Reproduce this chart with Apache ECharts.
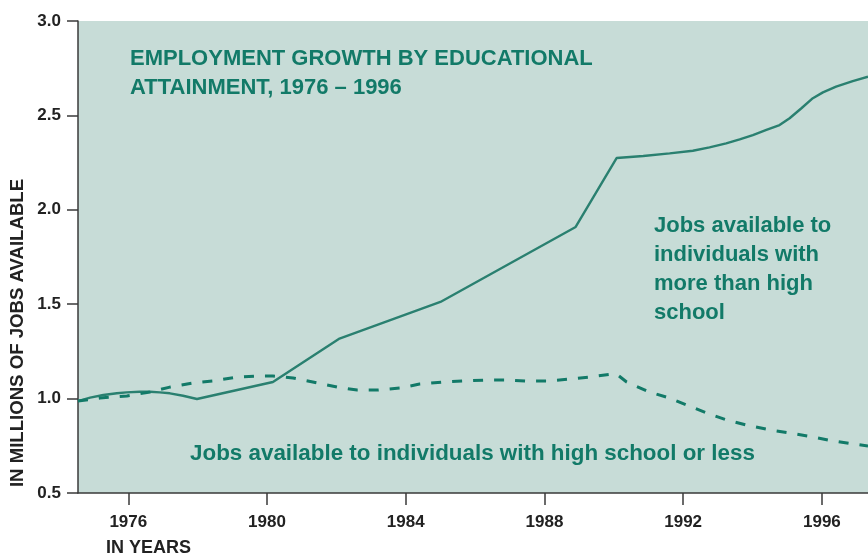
<!DOCTYPE html>
<html>
<head>
<meta charset="utf-8">
<script src="https://cdn.jsdelivr.net/npm/echarts@6/dist/echarts.min.js"></script>
<style>html,body{margin:0;padding:0;background:#fff}#c{width:868px;height:556px}</style>
</head>
<body>
<div id="c"></div>
<script>
// ---- data ----
const solidYears  = [1974.55,1974.9,1975.28,1975.67,1975.95,1976.33,1976.62,1976.91,1977.2,1977.58,1977.98,1980.17,1982.07,1985.0,1988.9,1990.08,1990.85,1991.61,1992.28,1992.76,1993.24,1993.63,1994.01,1994.4,1994.78,1995.07,1995.41,1995.74,1996.03,1996.41,1996.89,1997.33];
const solidValues = [0.987,1.005,1.019,1.028,1.033,1.036,1.036,1.033,1.028,1.015,0.998,1.088,1.316,1.512,1.909,2.274,2.285,2.299,2.313,2.331,2.352,2.373,2.396,2.423,2.449,2.485,2.538,2.591,2.622,2.652,2.682,2.705];
const dashedYears  = [1974.55,1975.18,1975.96,1976.63,1977.2,1977.87,1978.44,1979.13,1979.8,1980.17,1980.75,1981.32,1982.02,1982.6,1983.19,1983.83,1984.4,1985.07,1985.64,1986.28,1986.91,1987.48,1988.09,1988.72,1989.3,1989.96,1990.08,1990.37,1991.03,1991.6,1992.1,1992.67,1993.25,1993.83,1994.5,1995.07,1995.73,1996.3,1996.88,1997.33];
const dashedValues = [0.987,1.003,1.014,1.035,1.061,1.083,1.093,1.114,1.12,1.12,1.109,1.088,1.061,1.045,1.045,1.056,1.077,1.088,1.093,1.098,1.098,1.093,1.093,1.103,1.114,1.13,1.13,1.088,1.035,1.003,0.966,0.924,0.887,0.86,0.834,0.818,0.797,0.776,0.76,0.749];
const xTickValues = [1976,1980,1984,1988,1992,1996];
const yTicks = [0.5,1.0,1.5,2.0,2.5,3.0];
const titleText = 'EMPLOYMENT GROWTH BY EDUCATIONAL\nATTAINMENT, 1976 \u2013 1996';
const upperLabel = 'Jobs available to\nindividuals with\nmore than high\nschool';
const lowerLabel = 'Jobs available to individuals with high school or less';
const yAxisTitle = 'IN MILLIONS OF JOBS AVAILABLE';
const xAxisTitle = 'IN YEARS';

const FONT = '"Liberation Sans", Arial, Helvetica, sans-serif';
const GREEN = '#127a68';
const LINE = '#2a8070';
const AXIS = '#3a3a3a';

const chart = echarts.init(document.getElementById('c'), null, {renderer:'canvas'});
chart.setOption({
  animation:false,
  backgroundColor:'#ffffff',
  grid:{left:78,right:0,top:21,bottom:63,show:true,backgroundColor:'#c7dcd7',borderWidth:0},
  xAxis:{
    type:'value', min:1974.55, max:1997.33,
    axisLine:{show:true,lineStyle:{color:AXIS,width:1.5}},
    axisTick:{show:true,length:12,lineStyle:{color:AXIS,width:1.5},customValues:xTickValues},
    axisLabel:{customValues:xTickValues,formatter:v=>String(v),margin:21,fontFamily:FONT,fontWeight:'bold',fontSize:17,color:'#222'},
    splitLine:{show:false}
  },
  yAxis:{
    type:'value', min:0.5, max:3.0, interval:0.5,
    axisLine:{show:true,lineStyle:{color:AXIS,width:1.5}},
    axisTick:{show:true,length:11,lineStyle:{color:AXIS,width:1.5}},
    axisLabel:{formatter:v=>v.toFixed(1),margin:17,fontFamily:FONT,fontWeight:'bold',fontSize:17,color:'#222',padding:[0,0,9,0]},
    splitLine:{show:false}
  },
  series:[
    {type:'line',data:solidYears.map((x,i)=>[x,solidValues[i]]),showSymbol:false,smooth:false,
     lineStyle:{color:LINE,width:2.4}},
    {type:'line',data:dashedYears.map((x,i)=>[x,dashedValues[i]]),showSymbol:false,smooth:false,
     lineStyle:{color:GREEN,width:3,type:[10,11]}}
  ],
  graphic:[
    {type:'text',left:130,top:44,style:{text:titleText,font:'bold 22px '+FONT,fill:GREEN,lineHeight:29}},
    {type:'text',left:654,top:211,style:{text:upperLabel,font:'bold 22px '+FONT,fill:GREEN,lineHeight:29}},
    {type:'text',x:190,y:454,style:{text:lowerLabel,font:'bold 22.4px '+FONT,fill:GREEN,verticalAlign:'middle'}},
    {type:'text',x:106,y:548,style:{text:xAxisTitle,font:'bold 18px '+FONT,fill:'#222',verticalAlign:'middle'}},
    {type:'text',x:17.7,y:333,rotation:Math.PI/2,style:{text:yAxisTitle,font:'bold 18.6px '+FONT,fill:'#222',align:'center',verticalAlign:'middle'}}
  ]
});
</script>
</body>
</html>
